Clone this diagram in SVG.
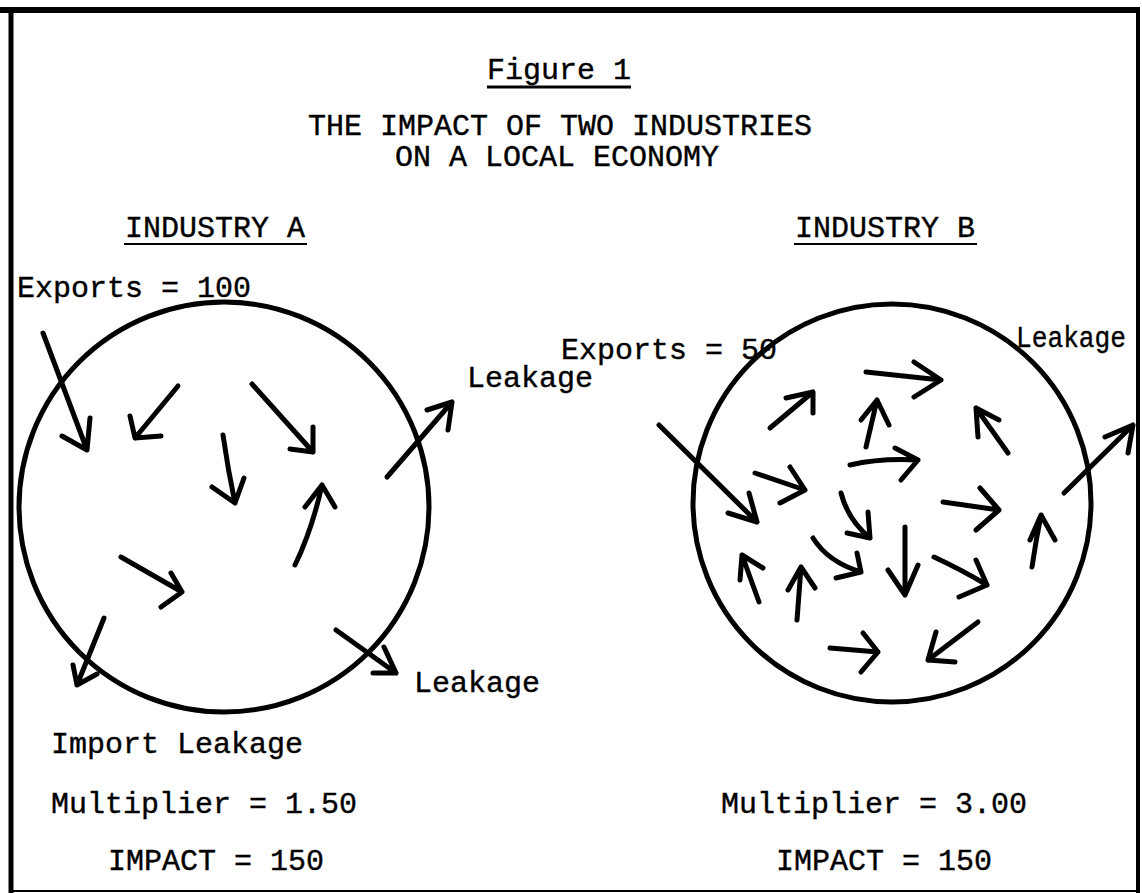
<svg xmlns="http://www.w3.org/2000/svg" width="1142" height="893" viewBox="0 0 1142 893">
  <style>
    text { font-family: "Liberation Mono", "Courier New", monospace; font-size: 30px; fill: #000; stroke: #000; stroke-width: 0.4; }
    .ring { fill: none; stroke: #000; stroke-width: 5; }
    .arr { fill: none; stroke: #000; stroke-width: 5; stroke-linecap: round; stroke-linejoin: round; }
    .rule { stroke: #000; fill: none; }
  </style>
  <rect width="1142" height="893" fill="#fff"/>

  <!-- page frame -->
  <g id="frame">
    <line class="rule" x1="0" y1="10" x2="1140" y2="10" stroke-width="6"/>
    <line class="rule" x1="11" y1="8" x2="11" y2="893" stroke-width="5"/>
    <line class="rule" x1="1138" y1="8" x2="1138" y2="893" stroke-width="4"/>
    <line class="rule" x1="11" y1="891" x2="1140" y2="891" stroke-width="2"/>
  </g>

  <!-- heading -->
  <g id="heading">
    <text x="487" y="79">Figure 1</text>
    <line class="rule" x1="487" y1="87" x2="631" y2="87" stroke-width="3"/>
    <text x="308" y="135">THE IMPACT OF TWO INDUSTRIES</text>
    <text x="395" y="166">ON A LOCAL ECONOMY</text>
  </g>

  <!-- Industry A -->
  <g id="industry-a">
    <text x="125" y="237">INDUSTRY A</text>
    <line class="rule" x1="124" y1="244" x2="307" y2="244" stroke-width="2"/>
    <circle class="ring" cx="224" cy="507" r="205"/>
    <text x="17" y="297">Exports = 100</text>
    <text x="467" y="387">Leakage</text>
    <text x="414" y="692">Leakage</text>
    <text x="51" y="753">Import Leakage</text>
    <text x="51" y="813">Multiplier = 1.50</text>
    <text x="108" y="870">IMPACT = 150</text>
  </g>

  <!-- Industry B -->
  <g id="industry-b">
    <text x="795" y="237">INDUSTRY B</text>
    <line class="rule" x1="794" y1="244" x2="977" y2="244" stroke-width="2"/>
    <circle class="ring" cx="892" cy="503" r="199"/>
    <text x="561" y="359">Exports = 50</text>
    <text x="1016" y="347" textLength="110" lengthAdjust="spacingAndGlyphs">Leakage</text>
    <text x="721" y="813">Multiplier = 3.00</text>
    <text x="776" y="870">IMPACT = 150</text>
  </g>

  <!-- flows -->
  <g id="connectors">
    <!-- Industry A flows -->
    <path class="arr" d="M43,333 L87,450 M62,436 L87,450 L90,418"/>
    <path class="arr" d="M178,386 L135,438 M130,416 L135,438 L161,436"/>
    <path class="arr" d="M223,435 Q228,470 235,503 M212,487 L235,503 L244,478"/>
    <path class="arr" d="M252,384 L313,452 M290,449 L313,452 L313,427"/>
    <path class="arr" d="M387,477 L452,402 M427,410 L452,402 L448,430"/>
    <path class="arr" d="M295,565 Q312,530 322,485 M305,507 L322,485 L335,507"/>
    <path class="arr" d="M121,557 L182,592 M171,573 L182,592 L161,607"/>
    <path class="arr" d="M104,618 L77,685 M73,665 L77,685 L97,674"/>
    <path class="arr" d="M336,630 L396,673 M373,673 L396,673 L384,647"/>
    <!-- Industry B flows -->
    <path class="arr" d="M659,425 L757,522 M728,513 L757,522 L749,493"/>
    <path class="arr" d="M770,428 L813,392 M786,398 L813,392 L813,413"/>
    <path class="arr" d="M866,372 L941,380 M914,362 L941,380 L914,397"/>
    <path class="arr" d="M866,447 L877,400 M861,420 L877,400 L889,425"/>
    <path class="arr" d="M1008,453 L976,408 M978,437 L976,408 L999,420"/>
    <path class="arr" d="M850,465 Q880,458 918,460 M895,448 L918,460 L901,480"/>
    <path class="arr" d="M755,473 L805,490 M790,467 L805,490 L780,503"/>
    <path class="arr" d="M841,493 Q848,520 870,538 M847,533 L870,538 L868,512"/>
    <path class="arr" d="M943,502 L999,510 M980,488 L999,510 L976,530"/>
    <path class="arr" d="M1064,493 L1133,425 M1105,437 L1133,425 L1128,453"/>
    <path class="arr" d="M1032,567 Q1036,540 1041,515 M1030,540 L1041,515 L1055,540"/>
    <path class="arr" d="M813,538 Q828,562 861,572 M836,578 L861,572 L857,553"/>
    <path class="arr" d="M905,527 L905,595 M888,570 L905,595 L918,565"/>
    <path class="arr" d="M934,557 Q962,570 987,585 M959,597 L987,585 L976,560"/>
    <path class="arr" d="M759,602 L742,555 M740,580 L742,555 L763,568"/>
    <path class="arr" d="M797,620 L801,567 M788,590 L801,567 L815,588"/>
    <path class="arr" d="M830,648 L878,652 M863,633 L878,652 L861,672"/>
    <path class="arr" d="M978,622 L928,660 M936,632 L928,660 L955,662"/>
  </g>
</svg>
